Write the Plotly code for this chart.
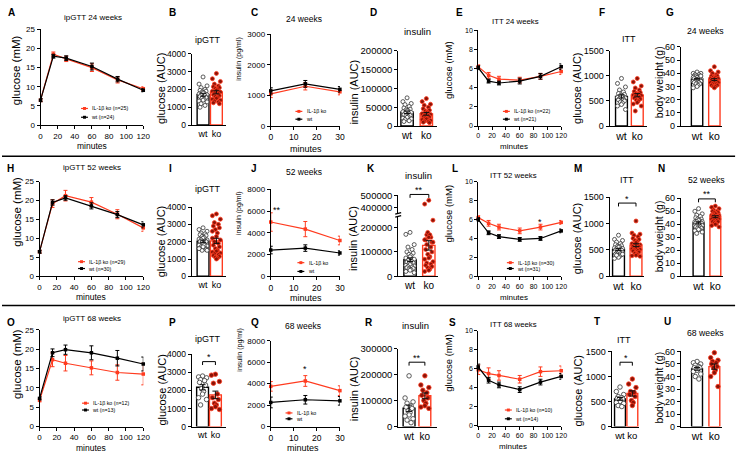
import numpy as np
import plotly.graph_objects as go

W, H = 750, 456
RED = "#ff3b1f"
KO_DOT = "#8a1307"
WT_EDGE = "#333333"
FONT = "Liberation Sans"

# ====================== data ======================
minutes_gtt = [0, 15, 30, 60, 90, 120]
minutes_ins = [0, 15, 30]
minutes_itt = [0, 15, 30, 60, 90, 120]
group_labels = ["wt", "ko"]

# ---- 24 weeks ----
gtt24_ko = [6.5, 18.5, 17.3, 15.0, 11.8, 9.5]
gtt24_ko_sem = [0.4, 0.6, 0.7, 1.0, 0.8, 0.5]
gtt24_wt = [6.5, 18.0, 17.5, 15.3, 12.0, 9.1]
gtt24_wt_sem = [0.4, 0.5, 0.6, 0.9, 0.7, 0.4]
gtt24_n = (25, 24)
gtt24_auc_wt = [2700, 2300, 2200, 2100, 2000, 1950, 1900, 1850, 1800, 1800, 1750, 1700,
                1700, 1650, 1600, 1550, 1500, 1450, 1400, 1350, 1300, 1200, 1100, 1000]
gtt24_auc_ko = [2900, 2600, 2450, 2300, 2200, 2150, 2100, 2050, 2000, 1950, 1900, 1850, 1800,
                1750, 1700, 1650, 1600, 1550, 1500, 1450, 1400, 1350, 1300, 1250, 1200]
ins24_ko = [1050, 1300, 1120]
ins24_ko_sem = [120, 120, 100]
ins24_wt = [1150, 1380, 1200]
ins24_wt_sem = [100, 110, 90]
ins24_auc_wt = [75000, 65000, 60000, 57000, 52000, 48000, 45000, 43000, 41000, 40000, 38000, 36000,
                34000, 32000, 30000, 28000, 27000, 25000, 23000, 21000, 19000, 17000, 14000, 12000]
ins24_auc_ko = [73000, 65000, 58000, 55000, 50000, 46000, 42000, 40000, 37000, 35000, 33000, 31000, 29000,
                27000, 25000, 24000, 22000, 20000, 19000, 17000, 15000, 13000, 12000, 10000, 9000]
itt24_ko = [6.2, 5.3, 4.9, 4.8, 5.2, 5.7]
itt24_ko_sem = [0.2, 0.3, 0.3, 0.3, 0.3, 0.3]
itt24_wt = [6.1, 4.7, 4.5, 4.7, 5.2, 6.2]
itt24_wt_sem = [0.2, 0.2, 0.2, 0.3, 0.3, 0.3]
itt24_n = (22, 21)
itt24_auc_wt = [950, 850, 780, 720, 680, 650, 630, 610, 600, 590, 570, 560, 550, 540, 520, 500,
                480, 460, 430, 400, 330]
itt24_auc_ko = [950, 880, 800, 760, 720, 690, 670, 650, 640, 630, 620, 610, 600, 580, 560, 540,
                520, 500, 470, 440, 400, 300]
bw24_wt = [41, 40, 40, 39, 39, 38, 38, 38, 37, 37, 37, 36, 36, 36, 36, 35, 35, 35, 35, 34,
           34, 34, 33, 33, 32, 32, 31, 30, 29, 38]
bw24_ko = [45, 42, 41, 40, 39, 38, 38, 37, 37, 36, 36, 36, 35, 35, 35, 34, 34, 34, 33, 33,
           33, 32, 32, 31, 31, 30, 30, 29]

# ---- 52 weeks ----
gtt52_ko = [6.5, 19.2, 21.3, 19.6, 16.4, 12.8]
gtt52_ko_sem = [0.4, 1.0, 1.4, 1.2, 1.2, 0.9]
gtt52_wt = [6.5, 19.5, 20.7, 18.6, 16.3, 13.6]
gtt52_wt_sem = [0.4, 0.7, 0.6, 0.8, 0.8, 0.8]
gtt52_n = (29, 30)
gtt52_auc_wt = [2800, 2700, 2600, 2500, 2450, 2400, 2350, 2300, 2250, 2200, 2150, 2100, 2100, 2050,
                2000, 2000, 1950, 1900, 1850, 1800, 1750, 1700, 1650, 1600, 1550, 1500, 1800, 1700,
                1600, 1500]
gtt52_auc_ko = [3600, 3500, 3300, 3100, 3000, 2900, 2800, 2700, 2500, 2300, 2200, 2100, 2000, 1900,
                1800, 1700, 1600, 1500, 1450, 1400, 1350, 1300, 1250, 1200, 1150, 1100, 1050, 1000,
                2600]
ins52_ko = [5000, 4350, 3300]
ins52_ko_sem = [850, 700, 400]
ins52_wt = [2420, 2600, 2150]
ins52_wt_sem = [350, 300, 200]
ins52_auc_wt = [180000, 172000, 130000, 120000, 110000, 100000, 95000, 90000, 85000, 80000, 75000,
                70000, 65000, 60000, 58000, 55000, 52000, 50000, 48000, 45000, 42000, 40000, 38000,
                35000, 32000, 30000, 27000, 25000, 20000, 15000]
ins52_auc_ko = [460000, 430000, 230000, 170000, 160000, 150000, 140000, 180000, 170000, 160000,
                150000, 140000, 130000, 120000, 110000, 100000, 90000, 80000, 75000, 70000, 60000,
                55000, 50000, 45000, 40000, 35000, 30000, 25000, 20000]
itt52_ko = [6.2, 5.6, 5.2, 4.8, 5.2, 5.7]
itt52_ko_sem = [0.2, 0.3, 0.3, 0.3, 0.3, 0.2]
itt52_wt = [6.0, 4.6, 4.2, 3.9, 4.0, 4.8]
itt52_wt_sem = [0.2, 0.2, 0.2, 0.2, 0.2, 0.2]
itt52_n = (30, 31)
itt52_auc_wt = [780, 700, 680, 650, 620, 600, 580, 570, 560, 550, 540, 530, 520, 510, 500, 500,
                490, 480, 470, 460, 450, 440, 430, 420, 410, 400, 380, 360, 340, 420, 400]
itt52_auc_ko = [1050, 820, 800, 780, 750, 720, 700, 680, 660, 640, 620, 600, 590, 580, 570, 560,
                550, 540, 530, 520, 510, 500, 490, 480, 460, 440, 420, 400, 390, 380]
bw52_wt = [52, 50, 48, 47, 46, 45, 44, 44, 43, 43, 42, 42, 42, 41, 41, 41, 40, 40, 40, 39, 39,
           39, 38, 38, 37, 37, 36, 36, 35, 34, 33]
bw52_ko = [54, 53, 52, 51, 50, 50, 49, 49, 48, 48, 47, 47, 47, 46, 46, 46, 45, 45, 45, 44, 44,
           43, 43, 42, 42, 41, 40, 40, 39, 38]

# ---- 68 weeks ----
gtt68_ko = [6.8, 17.3, 16.4, 15.2, 14.0, 13.6]
gtt68_ko_sem = [0.4, 1.8, 2.0, 1.8, 2.0, 2.8]
gtt68_wt = [7.3, 19.1, 19.9, 19.1, 17.7, 16.2]
gtt68_wt_sem = [0.4, 1.0, 1.2, 1.8, 2.0, 1.8]
gtt68_n = (12, 13)
gtt68_auc_wt = [2800, 2750, 2700, 2600, 2550, 2450, 2300, 2100, 1950, 1800, 1600, 1500, 1200]
gtt68_auc_ko = [2900, 2850, 2500, 2400, 1800, 1600, 1500, 1300, 1200, 1100, 1000, 950]
ins68_ko = [3750, 4250, 3350]
ins68_ko_sem = [450, 500, 450]
ins68_wt = [2250, 2500, 2400]
ins68_wt_sem = [500, 400, 400]
ins68_auc_wt = [195000, 110000, 95000, 90000, 80000, 75000, 70000, 60000, 55000, 45000, 40000,
                30000, 25000, 15000]
ins68_auc_ko = [195000, 160000, 150000, 140000, 130000, 120000, 110000, 100000, 90000, 80000,
                75000, 70000]
itt68_ko = [5.9, 5.5, 5.3, 4.9, 5.7, 5.8]
itt68_ko_sem = [0.5, 0.6, 0.5, 0.4, 0.5, 0.5]
itt68_wt = [6.2, 4.8, 4.3, 3.8, 4.6, 5.2]
itt68_wt_sem = [0.3, 0.3, 0.3, 0.3, 0.3, 0.3]
itt68_n = (10, 14)
itt68_auc_wt = [790, 700, 640, 600, 580, 560, 550, 540, 520, 500, 480, 460, 420, 400]
itt68_auc_ko = [950, 850, 780, 700, 680, 640, 600, 520, 480, 420]
bw68_wt = [52, 51, 50, 49, 48, 47, 47, 46, 46, 45, 44, 42, 40, 38]
bw68_ko = [59, 55, 53, 52, 51, 50, 48, 47, 45, 43, 40, 32]

# ====================== helpers ======================
fig = go.Figure()
lay = {}
shapes = []
annots = []
P = {}


def fx(px):
    return px / W


def fy(py):
    return 1 - py / H


def akey(prefix, i):
    return f"{prefix}axis" if i == 1 else f"{prefix}axis{i}"


def aref(prefix, i):
    return prefix if i == 1 else f"{prefix}{i}"


def base_axis(fs):
    return dict(showline=True, linecolor="black", linewidth=1, showgrid=False, zeroline=False,
                ticks="outside", ticklen=3, tickwidth=1, tickcolor="black", tickangle=0,
                tickfont=dict(family=FONT, size=fs, color="black"), fixedrange=True,
                layer="above traces")


def ticks(lo, hi, step):
    v = list(np.arange(lo, hi + step / 2, step))
    return v, [str(int(t)) for t in v]


def setup_line(key, i, x0, x1, yt, yb, xmax, xstep, ymax, ystep, fsx, fsy):
    xv, xt = ticks(0, xmax, xstep)
    yv, yt_ = ticks(0, ymax, ystep)
    xa = base_axis(fsx)
    xa.update(domain=[fx(x0), fx(x1)], range=[0, xmax], anchor=aref("y", i),
              tickmode="array", tickvals=xv, ticktext=xt)
    ya = base_axis(fsy)
    ya.update(domain=[fy(yb), fy(yt)], range=[0, ymax], anchor=aref("x", i),
              tickmode="array", tickvals=yv, ticktext=yt_)
    lay[akey("x", i)] = xa
    lay[akey("y", i)] = ya
    P[key] = dict(x0=x0, x1=x1, yt=yt, yb=yb, xr=[0, xmax], yr=[0, ymax],
                  xa=aref("x", i), ya=aref("y", i))


def setup_bar(key, i, ax_px, wt_px, ko_px, end_px, yt, yb, ymax, ystep, bw_px, fsx, fsy,
              yticks=None):
    unit = ko_px - wt_px
    xr = [(ax_px - wt_px) / unit, (end_px - wt_px) / unit]
    if yticks is None:
        yv, ytx = ticks(0, ymax, ystep)
    else:
        yv, ytx = yticks, [str(int(t)) for t in yticks]
    xa = base_axis(fsx)
    xa.update(domain=[fx(ax_px), fx(end_px)], range=xr, anchor=aref("y", i), ticks="",
              tickmode="array", tickvals=[0, 1], ticktext=group_labels)
    ya = base_axis(fsy)
    ya.update(domain=[fy(yb), fy(yt)], range=[0, ymax], anchor=aref("x", i),
              tickmode="array", tickvals=yv, ticktext=ytx)
    lay[akey("x", i)] = xa
    lay[akey("y", i)] = ya
    P[key] = dict(x0=ax_px, x1=end_px, yt=yt, yb=yb, xr=xr, yr=[0, ymax],
                  xa=aref("x", i), ya=aref("y", i), bw=bw_px / unit)


def dx2px(p, x):
    return p["x0"] + (x - p["xr"][0]) / (p["xr"][1] - p["xr"][0]) * (p["x1"] - p["x0"])


def dy2px(p, y):
    return p["yb"] - (y - p["yr"][0]) / (p["yr"][1] - p["yr"][0]) * (p["yb"] - p["yt"])


def line_panel(key, t, ko, ko_e, wt, wt_e):
    p = P[key]
    for vals, err, col in ((ko, ko_e, RED), (wt, wt_e, "black")):
        fig.add_trace(go.Scatter(
            x=t, y=vals, mode="lines+markers", line=dict(color=col, width=1.2),
            marker=dict(symbol="square", size=3.5, color=col),
            error_y=dict(type="data", array=err, color=col, thickness=1, width=2),
            xaxis=p["xa"], yaxis=p["ya"], cliponaxis=False, showlegend=False,
            hoverinfo="skip"))


SPREAD = [0.0, -0.8, 0.8, -0.4, 0.4, -0.6, 0.6, -0.2, 0.2]


def jitter(n):
    return np.array([SPREAD[k % len(SPREAD)] for k in range(n)])


def bar_panel(key, wt_vals, ko_vals, msize=4, split=None, upper=None):
    p = P[key]
    bw = p["bw"]
    for gi, (vals, col) in enumerate(((wt_vals, "black"), (ko_vals, RED))):
        arr = np.array(vals, dtype=float)
        mean = arr.mean()
        sem = arr.std(ddof=1) / np.sqrt(len(arr))
        fig.add_trace(go.Bar(
            x=[gi], y=[mean], width=bw,
            marker=dict(color="white", line=dict(color=col, width=1.4)),
            xaxis=p["xa"], yaxis=p["ya"], showlegend=False, hoverinfo="skip"))
        xs = gi + jitter(len(arr)) * bw * 0.42
        if gi == 0:
            mk = dict(size=msize, color="white", line=dict(color=WT_EDGE, width=0.8))
        else:
            mk = dict(size=msize, color=KO_DOT, line=dict(color=RED, width=0.8))
        if split is None:
            fig.add_trace(go.Scatter(x=xs, y=arr, mode="markers", marker=mk,
                                     xaxis=p["xa"], yaxis=p["ya"], cliponaxis=False,
                                     showlegend=False, hoverinfo="skip"))
        else:
            lo = arr < split
            fig.add_trace(go.Scatter(x=xs[lo], y=arr[lo], mode="markers", marker=mk,
                                     xaxis=p["xa"], yaxis=p["ya"], cliponaxis=False,
                                     showlegend=False, hoverinfo="skip"))
            fig.add_trace(go.Scatter(x=xs[~lo], y=arr[~lo], mode="markers", marker=mk,
                                     xaxis=upper["xa"], yaxis=upper["ya"], cliponaxis=False,
                                     showlegend=False, hoverinfo="skip"))
        fig.add_trace(go.Scatter(
            x=[gi], y=[mean], mode="markers", marker=dict(size=1, color="rgba(0,0,0,0)"),
            error_y=dict(type="data", array=[sem], color="#111111", thickness=1, width=3),
            xaxis=p["xa"], yaxis=p["ya"], cliponaxis=False, showlegend=False,
            hoverinfo="skip"))


def text(x, y, s, fs, xanchor="center", yanchor="middle", angle=0, bold=False):
    annots.append(dict(xref="paper", yref="paper", x=fx(x), y=fy(y),
                       text=f"<b>{s}</b>" if bold else s, showarrow=False,
                       xanchor=xanchor, yanchor=yanchor, textangle=angle,
                       font=dict(family=FONT, size=fs, color="black")))


def legend(x, y_red, y_black, labels, fs=5.3):
    for ypx, col, lab in ((y_red, RED, labels[0]), (y_black, "black", labels[1])):
        shapes.append(dict(type="line", xref="paper", yref="paper", x0=fx(x), x1=fx(x + 7),
                           y0=fy(ypx), y1=fy(ypx), line=dict(color=col, width=1.2)))
        shapes.append(dict(type="rect", xref="paper", yref="paper", x0=fx(x + 2), x1=fx(x + 5),
                           y0=fy(ypx + 1.5), y1=fy(ypx - 1.5), fillcolor=col,
                           line=dict(width=0)))
        annots.append(dict(xref="paper", yref="paper", x=fx(x + 9.5), y=fy(ypx), text=lab,
                           showarrow=False, xanchor="left", yanchor="middle",
                           font=dict(family=FONT, size=fs, color="black")))


def bracket(key, yval, s, fs=9, drop=3.5):
    p = P[key]
    xl, xr = dx2px(p, 0), dx2px(p, 1)
    yp = dy2px(p, yval)
    shapes.append(dict(type="path", xref="paper", yref="paper",
                       path=f"M {fx(xl)},{fy(yp + drop)} L {fx(xl)},{fy(yp)} "
                            f"L {fx(xr)},{fy(yp)} L {fx(xr)},{fy(yp + drop)}",
                       line=dict(color="black", width=1)))
    annots.append(dict(xref="paper", yref="paper", x=fx((xl + xr) / 2), y=fy(yp), text=s,
                       showarrow=False, xanchor="center", yanchor="bottom", yshift=-2.5,
                       font=dict(family=FONT, size=fs, color="black")))


def star(key, xval, yval, s, fs=9):
    p = P[key]
    annots.append(dict(xref=p["xa"], yref=p["ya"], x=xval, y=yval, text=s, showarrow=False,
                       xanchor="center", yanchor="middle", yshift=-2,
                       font=dict(family=FONT, size=fs, color="black")))


def ko_lab(n):
    return f"IL-1β ko (n={n})"


# ====================== axes ======================
# row 1
setup_line("A", 1, 39, 143, 24, 122, 120, 20, 25, 5, 8, 8)
setup_bar("B", 2, 192, 203.5, 217, 227, 49, 122, 4000, 1000, 12, 9, 8.5)
setup_line("C", 3, 272, 342, 29, 123, 30, 10, 3000, 1000, 8.5, 8)
setup_bar("D", 4, 401, 410, 429.5, 440, 46, 123, 200000, 50000, 12.5, 10, 9.5)
setup_line("E", 5, 482, 566, 25, 123, 120, 20, 10, 2, 7, 7)
setup_bar("F", 6, 615, 627, 643, 652.5, 46, 123, 1500, 500, 12, 10.5, 9)
setup_bar("G", 7, 687, 703.5, 721, 729, 42, 123, 60, 10, 11.5, 10.5, 9)
# row 2
setup_line("H", 8, 38, 143, 180, 277, 120, 20, 25, 5, 8, 8)
setup_bar("I", 9, 192, 203.5, 217, 227, 206, 277, 4000, 1000, 12, 9, 8.5)
setup_line("J", 10, 272, 342, 188, 277, 30, 10, 8000, 2000, 8.5, 8)
setup_bar("K", 11, 401, 413, 432, 441.5, 216, 277, 244000, 100000, 12.5, 10, 9.5,
          yticks=[0, 100000, 200000])
setup_line("L", 12, 482, 566, 180, 277, 120, 20, 10, 2, 7, 7)
setup_bar("M", 13, 615, 624, 641.7, 650, 196, 277, 1500, 500, 12, 10.5, 9)
setup_bar("N", 14, 687, 705, 722, 730, 197, 277, 60, 10, 11, 10.5, 9)
# row 3
setup_line("O", 15, 38, 143, 332, 431, 120, 20, 25, 5, 8, 8)
setup_bar("P", 16, 192, 203, 216, 227, 357, 431, 4000, 1000, 12, 9, 8.5)
setup_line("Q", 17, 272, 342, 343, 431, 30, 10, 8000, 2000, 8.5, 8)
setup_bar("R", 18, 401, 412, 428, 440, 351, 431, 300000, 100000, 12, 10, 9.5)
setup_line("S", 19, 482, 566, 333, 430, 120, 20, 10, 2, 7, 7)
setup_bar("T", 20, 617, 625.5, 638, 645, 354, 431, 1500, 500, 11, 9.5, 9)
setup_bar("U", 21, 687, 703.5, 721, 729, 354, 431, 60, 10, 11, 10.5, 9)

# K upper (broken) axis segment
k_up = base_axis(9.5)
k_up.update(domain=[fy(212), fy(194)], range=[360000, 500000], anchor="x11",
            tickmode="array", tickvals=[400000, 500000], ticktext=["400000", "500000"])
lay["yaxis22"] = k_up
P["K_up"] = dict(x0=P["K"]["x0"], x1=P["K"]["x1"], yt=194, yb=212, xr=P["K"]["xr"],
                 yr=[360000, 500000], xa="x11", ya="y22")
for yb_ in (212.5, 215.5):
    shapes.append(dict(type="line", xref="paper", yref="paper", x0=fx(398), x1=fx(404),
                       y0=fy(yb_ + 0.8), y1=fy(yb_ - 0.8), line=dict(color="black", width=1.3)))

# ====================== traces ======================
line_panel("A", minutes_gtt, gtt24_ko, gtt24_ko_sem, gtt24_wt, gtt24_wt_sem)
line_panel("C", minutes_ins, ins24_ko, ins24_ko_sem, ins24_wt, ins24_wt_sem)
line_panel("E", minutes_itt, itt24_ko, itt24_ko_sem, itt24_wt, itt24_wt_sem)
line_panel("H", minutes_gtt, gtt52_ko, gtt52_ko_sem, gtt52_wt, gtt52_wt_sem)
line_panel("J", minutes_ins, ins52_ko, ins52_ko_sem, ins52_wt, ins52_wt_sem)
line_panel("L", minutes_itt, itt52_ko, itt52_ko_sem, itt52_wt, itt52_wt_sem)
line_panel("O", minutes_gtt, gtt68_ko, gtt68_ko_sem, gtt68_wt, gtt68_wt_sem)
line_panel("Q", minutes_ins, ins68_ko, ins68_ko_sem, ins68_wt, ins68_wt_sem)
line_panel("S", minutes_itt, itt68_ko, itt68_ko_sem, itt68_wt, itt68_wt_sem)

bar_panel("B", gtt24_auc_wt, gtt24_auc_ko)
bar_panel("D", ins24_auc_wt, ins24_auc_ko)
bar_panel("F", itt24_auc_wt, itt24_auc_ko)
bar_panel("G", bw24_wt, bw24_ko)
bar_panel("I", gtt52_auc_wt, gtt52_auc_ko)
bar_panel("K", ins52_auc_wt, ins52_auc_ko, split=300000, upper=P["K_up"])
bar_panel("M", itt52_auc_wt, itt52_auc_ko)
bar_panel("N", bw52_wt, bw52_ko)
bar_panel("P", gtt68_auc_wt, gtt68_auc_ko, msize=4.5)
bar_panel("R", ins68_auc_wt, ins68_auc_ko, msize=4.5)
bar_panel("T", itt68_auc_wt, itt68_auc_ko, msize=4.5)
bar_panel("U", bw68_wt, bw68_ko, msize=4.5)

# ====================== significance ======================
bracket("K_up", 507000, "**")
bracket("M", 1390, "*")
bracket("N", 59.5, "**")
bracket("P", 3600, "*")
bracket("R", 247500, "**")
bracket("T", 1285, "*")
star("J", 2.6, 6300, "**")
star("L", 90, 6.0, "*")
star("Q", 15, 5550, "*")

# ====================== legends ======================
legend(80, 105, 114, [ko_lab(gtt24_n[0]), f"wt (n={gtt24_n[1]})"])
legend(297, 108, 116, ["IL-1β ko", "wt"])
legend(507, 108, 116, [ko_lab(itt24_n[0]), f"wt (n={itt24_n[1]})"])
legend(77, 262, 269, [ko_lab(gtt52_n[0]), f"wt (n={gtt52_n[1]})"])
legend(299, 263, 272, ["IL-1β ko", "wt"])
legend(511, 263, 269, [ko_lab(itt52_n[0]), f"wt (n={itt52_n[1]})"])
legend(81, 407, 414, [ko_lab(gtt68_n[0]), f"wt (n={gtt68_n[1]})"])
legend(287, 417, 423, ["IL-1β ko", "wt"])
legend(509, 414, 423, [ko_lab(itt68_n[0]), f"wt (n={itt68_n[1]})"])

# ====================== texts ======================
letters = [("A", 4, 7), ("B", 167, 7), ("C", 250, 7), ("D", 370, 7), ("E", 457, 7),
           ("F", 602, 7), ("G", 670, 7),
           ("H", 3, 167), ("I", 167, 167), ("J", 250, 167), ("K", 367, 167), ("L", 453, 167),
           ("M", 577, 167), ("N", 662, 167),
           ("O", 3, 324), ("P", 167, 324), ("Q", 250, 324), ("R", 365, 324), ("S", 450, 324),
           ("T", 597, 323), ("U", 668, 323)]
for s, x, y in letters:
    text(x, y, s, 10, xanchor="left", bold=True)

titles = [("ipGTT 24 weeks", 92, 12, 8), ("ipGTT", 209, 35, 9), ("24 weeks", 306, 13, 8.5),
          ("insulin", 421, 26, 9.5), ("ITT 24 weeks", 520, 16, 7.8), ("ITT", 635, 34, 9),
          ("24 weeks", 712, 26, 8.7),
          ("ipGTT 52 weeks", 91, 166, 8), ("ipGTT", 209, 188, 9), ("52 weeks", 306, 170, 8.5),
          ("insulin", 422, 174, 9.5), ("ITT 52 weeks", 518, 174, 7.8), ("ITT", 633, 178, 9),
          ("52 weeks", 713, 178, 8.7),
          ("ipGTT 68 weeks", 91, 320, 8), ("ipGTT", 208, 341, 9), ("68 weeks", 305, 328, 8.5),
          ("insulin", 419, 327, 9.5), ("ITT 68 weeks", 518, 326, 7.8), ("ITT", 630, 342, 9),
          ("68 weeks", 712, 335, 8.7)]
for s, x, y, f in titles:
    text(x, y, s, f)

ytitles = [("glucose (mM)", 15, 66, 11.5), ("glucose (AUC)", 161, 84, 11),
           ("insulin (pg/ml)", 240, 54, 7), ("insulin (AUC)", 356, 88, 11),
           ("glucose (mM)", 452, 66, 9.5), ("glucose (AUC)", 582, 84, 11),
           ("body weight (g)", 665, 78, 10.5),
           ("glucose (mM)", 15, 211, 11.5), ("glucose (AUC)", 161, 241, 11),
           ("insulin (pg/ml)", 240, 212, 7), ("insulin (AUC)", 356, 238, 11),
           ("glucose (mM)", 452, 213, 9.5), ("glucose (AUC)", 582, 238, 11),
           ("body weight (g)", 665, 236, 10.5),
           ("glucose (mM)", 15, 367, 11.5), ("glucose (AUC)", 161, 393, 11),
           ("insulin (pg/ml)", 240, 352, 7), ("insulin (AUC)", 356, 392, 11),
           ("glucose (mM)", 452, 366, 9.5), ("glucose (AUC)", 584, 394, 11),
           ("body weight (g)", 665, 391, 10.5)]
for s, x, y, f in ytitles:
    text(x, y, s, f, angle=-90)

xtitles = [(91, 143, 8.5), (308, 147, 9), (518, 144, 8),
           (90, 298, 8.5), (308, 299, 9), (518, 299, 8),
           (90, 453, 8.5), (305, 453, 9), (517, 451, 8)]
for x, y, f in xtitles:
    text(x, y, "minutes", f)

# row separators
for ysep in (154, 307):
    shapes.append(dict(type="line", xref="paper", yref="paper", x0=0, x1=fx(742),
                       y0=fy(ysep), y1=fy(ysep), line=dict(color="black", width=1.5)))

fig.update_layout(
    width=W, height=H, margin=dict(l=0, r=0, t=0, b=0),
    paper_bgcolor="white", plot_bgcolor="white", barmode="overlay",
    showlegend=False, font=dict(family=FONT, color="black"),
    shapes=shapes, annotations=annots, **lay)

fig.write_html("out.html", config={"displayModeBar": False},
               post_script="document.body.style.margin='0';document.body.style.overflow='hidden';")
